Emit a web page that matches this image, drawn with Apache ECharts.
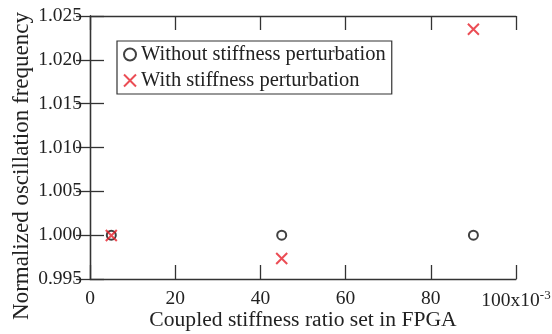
<!DOCTYPE html>
<html>
<head>
<meta charset="utf-8">
<script src="https://cdn.jsdelivr.net/npm/echarts@6/dist/echarts.min.js"></script>
<style>html,body{margin:0;padding:0;background:#fff}#c{width:552px;height:334px}</style>
</head>
<body>
<div id="c"></div>
<script>
const seriesNames = ['Without stiffness perturbation', 'With stiffness perturbation'];
const xWithout = [5, 45, 90];
const yWithout = [1.000, 1.000, 1.000];
const xWith = [5, 45, 90];
const yWith = [0.99997, 0.99733, 1.02348];
const xTicks = [0, 20, 40, 60, 80, 100];
const yTicks = [0.995, 1.000, 1.005, 1.010, 1.015, 1.020, 1.025];
const xTitle = 'Coupled stiffness ratio set in FPGA';
const yTitle = 'Normalized oscillation frequency';

const FONT = 'Liberation Serif';
const chart = echarts.init(document.getElementById('c'), null, {renderer: 'canvas'});
const tickStyle = {show: true, inside: true, length: 14, lineStyle: {color: '#333', width: 1.3}};
const lineStyle = {lineStyle: {color: '#333', width: 1.3}};
const xCommon = {type: 'value', min: xTicks[0], max: xTicks[xTicks.length - 1], interval: 20, splitLine: {show: false}};
const yCommon = {type: 'value', min: yTicks[0], max: yTicks[yTicks.length - 1], interval: 0.005, splitLine: {show: false}};

chart.setOption({
  animation: false,
  grid: {left: 90, right: 36, top: 16, bottom: 55, containLabel: false, outerBoundsMode: 'none'},
  xAxis: [
    Object.assign({}, xCommon, {
      position: 'bottom',
      axisLine: Object.assign({show: true}, lineStyle),
      axisTick: tickStyle,
      axisLabel: {
        fontFamily: FONT, fontSize: 19.5, color: '#222', margin: 10,
        formatter: function (v) {
          return v === xTicks[xTicks.length - 1] ? v + 'x10{sup|-3}' : String(v);
        },
        rich: {sup: {fontFamily: FONT, fontSize: 13, color: '#222', verticalAlign: 'top', padding: [0, 0, 10, 0]}}
      },
      name: xTitle, nameLocation: 'middle', nameGap: 30, nameMoveOverlap: false,
      nameTextStyle: {fontFamily: FONT, fontSize: 21.6, color: '#222'}
    }),
    Object.assign({}, xCommon, {
      position: 'top',
      axisLine: Object.assign({show: true}, lineStyle),
      axisTick: tickStyle,
      axisLabel: {show: false}
    })
  ],
  yAxis: [
    Object.assign({}, yCommon, {
      position: 'left',
      axisLine: Object.assign({show: true}, lineStyle),
      axisTick: tickStyle,
      axisLabel: {
        fontFamily: FONT, fontSize: 19.5, color: '#222', margin: 8,
        formatter: function (v) { return v.toFixed(3); }
      }
    }),
    Object.assign({}, yCommon, {
      position: 'right',
      axisLine: Object.assign({show: true}, lineStyle),
      axisTick: tickStyle,
      axisLabel: {show: false}
    })
  ],
  graphic: [{
    type: 'text', x: 22, y: 166, rotation: Math.PI / 2,
    style: {text: yTitle, font: '23px "Liberation Serif"', fill: '#222', align: 'center', verticalAlign: 'middle'}
  }],
  legend: {
    orient: 'vertical', left: 117, top: 41,
    backgroundColor: '#fff', borderColor: '#333', borderWidth: 1.2, borderRadius: 0,
    padding: [3, 6, 3, 6], itemGap: 5, itemWidth: 12, itemHeight: 12,
    textStyle: {fontFamily: FONT, fontSize: 20.5, color: '#222', padding: [0, 0, 0, 0]},
    data: seriesNames
  },
  series: [
    {
      name: seriesNames[0], type: 'scatter', xAxisIndex: 0, yAxisIndex: 0,
      symbol: 'circle', symbolSize: 9,
      itemStyle: {color: 'rgba(0,0,0,0)', borderColor: '#111', borderWidth: 2},
      data: xWithout.map((x, i) => [x, yWithout[i]]), z: 3
    },
    {
      name: seriesNames[1], type: 'scatter', xAxisIndex: 0, yAxisIndex: 0,
      symbol: 'path://M0,0L10,10M10,0L0,10', symbolSize: 11,
      itemStyle: {color: 'rgba(0,0,0,0)', borderColor: '#e6202a', borderWidth: 2},
      data: xWith.map((x, i) => [x, yWith[i]]), z: 4
    }
  ]
});
</script>
</body>
</html>
